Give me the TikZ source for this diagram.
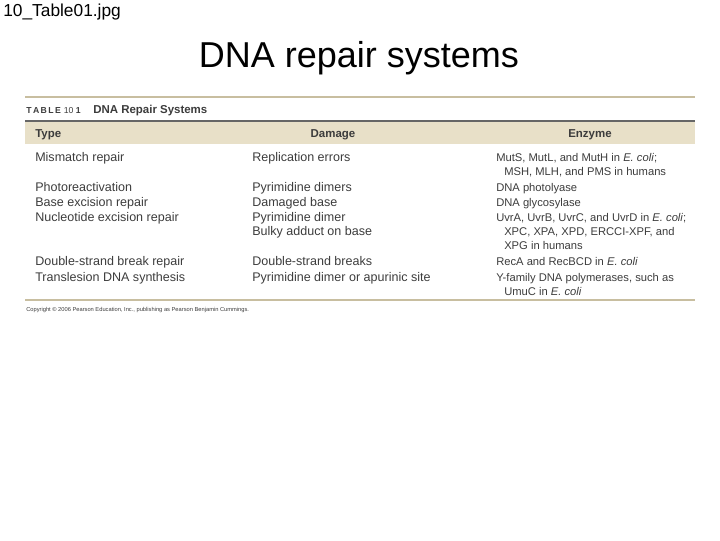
\documentclass[tikz,border=0pt]{standalone}
\usepackage{fontspec}
\setmainfont{Liberation Sans}
\definecolor{hdr}{RGB}{232,224,200}
\definecolor{rule}{RGB}{200,190,160}
\definecolor{txt}{RGB}{60,60,60}
\begin{document}
\begin{tikzpicture}[x=0.75pt,y=-0.75pt,
  t/.style={anchor=base west,inner sep=0,font=\fontsize{9.4}{10}\selectfont,text=txt},
  e/.style={anchor=base west,inner sep=0,font=\fontsize{8.4}{10}\selectfont,text=txt},
  h/.style={inner sep=0,font=\fontsize{8.6}{9}\selectfont\bfseries,text=txt}]
\useasboundingbox (0,0) rectangle (720,540);
\node[anchor=west,inner sep=0,font=\fontsize{13}{15}\selectfont] (file) at (3,12) {10\_Table01.jpg};
\node[inner sep=0,font=\fontsize{27}{30}\selectfont] (title) at (359,58) {DNA repair systems};
\draw[rule,line width=1.2pt] (25,97) -- (695,97);
\node[anchor=west,inner sep=0,font=\fontsize{6.5}{8}\selectfont\bfseries,text=txt] (tab) at (26,111) {T\,A\,B\,L\,E\,\,\textmd{10} 1};
\node[h,anchor=west] (cap) at (93,111) {DNA Repair Systems};
\fill[hdr] (25,121) rectangle (695,144);
\draw[gray!80!black,line width=0.9pt] (25,121) -- (695,121);
\node[h,anchor=west] (htype) at (35,135) {Type};
\node[h] (hdam) at (333,135) {Damage};
\node[h] (henz) at (590,135) {Enzyme};
\node[t] at (35,161) {Mismatch repair};
\node[t] at (252,161) {Replication errors};
\node[e] at (496,161) {MutS, MutL, and MutH in \textit{E. coli};};
\node[e] at (504,175) {MSH, MLH, and PMS in humans};
\node[t] at (35,191) {Photoreactivation};
\node[t] at (252,191) {Pyrimidine dimers};
\node[e] at (496,191) {DNA photolyase};
\node[t] at (35,206) {Base excision repair};
\node[t] at (252,206) {Damaged base};
\node[e] at (496,206) {DNA glycosylase};
\node[t] at (35,221) {Nucleotide excision repair};
\node[t] at (252,221) {Pyrimidine dimer};
\node[t] at (252,235) {Bulky adduct on base};
\node[e] at (496,221) {UvrA, UvrB, UvrC, and UvrD in \textit{E. coli};};
\node[e] at (504,235) {XPC, XPA, XPD, ERCCI-XPF, and};
\node[e] at (504,249) {XPG in humans};
\node[t] at (35,265) {Double-strand break repair};
\node[t] at (252,265) {Double-strand breaks};
\node[e] at (496,265) {RecA and RecBCD in \textit{E. coli}};
\node[t] at (35,281) {Translesion DNA synthesis};
\node[t] at (252,281) {Pyrimidine dimer or apurinic site};
\node[e] at (496,281) {Y-family DNA polymerases, such as};
\node[e] at (504,295) {UmuC in \textit{E. coli}};
\draw[rule,line width=0.8pt] (25,300) -- (695,300);
\node[anchor=west,inner sep=0,font=\fontsize{4.3}{5}\selectfont,text=txt] (copy) at (26,310) {Copyright \textcopyright\ 2006 Pearson Education, Inc., publishing as Pearson Benjamin Cummings.};
\end{tikzpicture}
\end{document}
